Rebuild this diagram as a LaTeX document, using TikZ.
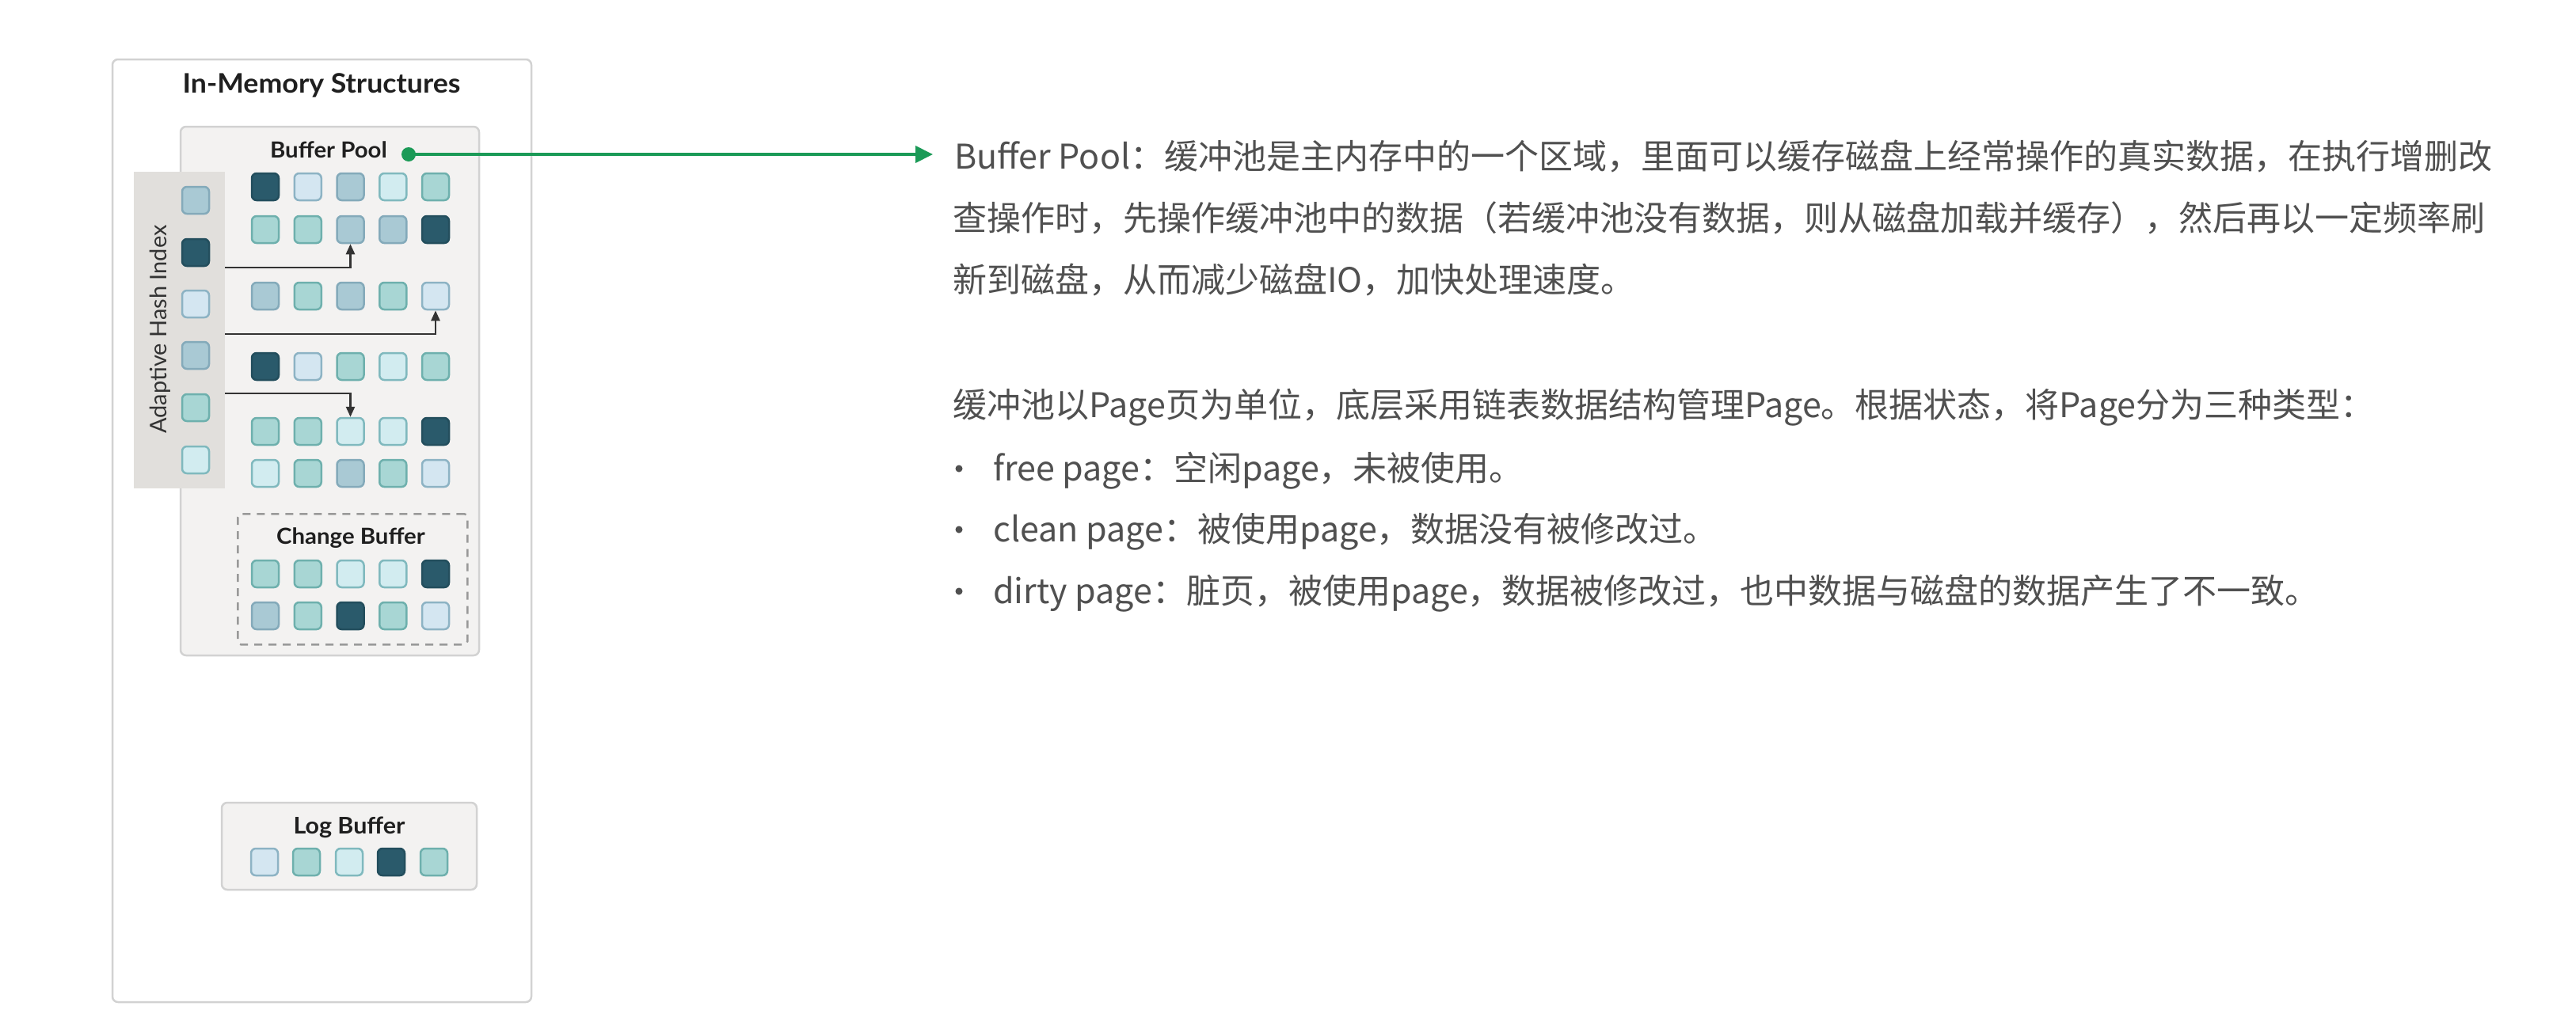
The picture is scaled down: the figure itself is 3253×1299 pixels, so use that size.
\documentclass[tikz,border=0pt]{standalone}
\usepackage{fontspec}
\setmainfont{Noto Sans CJK SC}
\newfontfamily\cjkfont{Noto Sans CJK SC}
\newfontfamily\latofont{Lato}
\newfontfamily\latowide{Lato}[FakeStretch=1.05]
\usetikzlibrary{arrows.meta}
\definecolor{txtgray}{HTML}{505050}
\definecolor{gline}{HTML}{1B9A57}
\definecolor{boxline}{HTML}{D2D2D2}
\definecolor{boxfill}{HTML}{F3F2F1}
\definecolor{ahifill}{HTML}{E1DFDC}
\definecolor{darkK}{HTML}{2A5A6B}
\definecolor{darkKb}{HTML}{234E5D}
\definecolor{lbF}{HTML}{D4E6F1}
\definecolor{lbD}{HTML}{8DB3C4}
\definecolor{gbF}{HTML}{A9C9D4}
\definecolor{gbD}{HTML}{84AABA}
\definecolor{lcF}{HTML}{D2ECF0}
\definecolor{lcD}{HTML}{80B9BE}
\definecolor{ttF}{HTML}{A8D6D4}
\definecolor{ttD}{HTML}{6EB0AD}
\newcommand\sqrow[4]{%
  \foreach \t [count=\i] in {#4} {\node[sq,sq\t] (#1-\i) at ({#2+53.75*(\i-1)},#3) {};}}
\begin{document}
\begin{tikzpicture}[x=1pt,y=-1pt,
  sq/.style={draw, rounded corners=6pt, minimum size=34pt, line width=2.5pt, inner sep=0pt},
  sqK/.style={fill=darkK, draw=darkKb},
  sqB/.style={fill=lbF, draw=lbD},
  sqG/.style={fill=gbF, draw=gbD},
  sqC/.style={fill=lcF, draw=lcD},
  sqT/.style={fill=ttF, draw=ttD},
  panel/.style={draw=boxline, fill=boxfill, line width=2.5pt, rounded corners=7pt, anchor=north west, inner sep=0pt, outer sep=0pt},
  lbl/.style={anchor=base, inner sep=0pt, text=black!88},
  body/.style={anchor=base west, inner sep=0pt, text=txtgray, font=\cjkfont\fontsize{43}{43}\selectfont},
  hidx/.style={-{Triangle[length=13pt,width=11pt]}, line width=2.5pt, draw=black!80},
]
\useasboundingbox (0,0) rectangle (3253,1299);
\fill[white] (0,0) rectangle (3253,1299);

% outer container
\node[panel, fill=white, draw=boxline, minimum width=529pt, minimum height=1191pt] (outer) at (142,75) {};
\node[lbl, font=\latowide\bfseries\fontsize{34}{34}\selectfont] (title) at (406,117) {In-Memory Structures};

% buffer pool
\node[panel, minimum width=377pt, minimum height=668pt] (bp) at (228,160) {};
\node[lbl, font=\latowide\bfseries\fontsize{28}{28}\selectfont] (bptitle) at (415,199) {Buffer Pool};

% adaptive hash index
\node[anchor=north west, fill=ahifill, minimum width=115pt, minimum height=400pt, inner sep=0pt, outer sep=0pt] (ahi) at (169,217) {};
\node[anchor=base, rotate=90, inner sep=0pt, text=black!80, font=\latofont\fontsize{29}{29}\selectfont] (ahititle) at (210,416) {Adaptive Hash Index};
\foreach \t/\y [count=\i] in {G/253,K/319,B/384,G/449,T/515,C/581} {\node[sq,sq\t] (ahi-\i) at (247,\y) {};}

% buffer pool pages
\sqrow{bpa}{335}{236}{K,B,G,C,T}
\sqrow{bpb}{335}{290}{T,T,G,G,K}
\sqrow{bpc}{335}{374}{G,T,G,T,B}
\sqrow{bpd}{335}{463}{K,B,T,C,T}
\sqrow{bpe}{335}{545}{T,T,C,C,K}
\sqrow{bpf}{335}{598}{C,T,G,T,B}

% hash index pointers
\coordinate (h1) at (284,338);
\coordinate (h2) at (284,422);
\coordinate (h3) at (284,497);
\draw[hidx] (h1) -| (bpb-3.south);
\draw[hidx] (h2) -| (bpc-5.south);
\draw[hidx] (h3) -| (bpe-3.north);

% change buffer
\node[anchor=north west, draw=black!40, dashed, dash pattern=on 10pt off 8pt, line width=2.5pt, rounded corners=4pt, minimum width=290pt, minimum height=165pt, inner sep=0pt] (cb) at (299,648) {};
\node[lbl, font=\latowide\bfseries\fontsize{28}{28}\selectfont] (cbtitle) at (443,687) {Change Buffer};
\sqrow{cba}{335}{725}{T,T,C,C,K}
\sqrow{cbb}{335}{778}{G,T,K,T,B}

% log buffer
\node[panel, minimum width=322pt, minimum height=110pt] (lb) at (280,1014) {};
\node[lbl, font=\latowide\bfseries\fontsize{29}{29}\selectfont] (lbtitle) at (441,1053) {Log Buffer};
\foreach \t/\x [count=\i] in {B/334,T/387,C/441,K/494,T/548} {\node[sq,sq\t] (lb-\i) at (\x,1089) {};}

% green pointer
\node[circle, fill=gline, minimum size=18pt, inner sep=0pt] (gdot) at (516,195) {};
\coordinate (gtip) at (1178,195);
\draw[gline, line width=4pt, -{Triangle[length=22pt,width=21pt]}] (gdot.center) -- (gtip);

% description text
\node[body] (l1) at (1205,213) {Buffer Pool：缓冲池是主内存中的一个区域，里面可以缓存磁盘上经常操作的真实数据，在执行增删改};
\node[body] (l2) at (1203,291) {查操作时，先操作缓冲池中的数据（若缓冲池没有数据，则从磁盘加载并缓存），然后再以一定频率刷};
\node[body] (l3) at (1203,369) {新到磁盘，从而减少磁盘IO，加快处理速度。};
\node[body] (l4) at (1203,527) {缓冲池以Page页为单位，底层采用链表数据结构管理Page。根据状态，将Page分为三种类型：};
\foreach \y in {607,684,762} {\fill[txtgray] (1211,\y-15) circle (4.5pt);}
\node[body] (l5) at (1254,607) {free page：空闲page，未被使用。};
\node[body] (l6) at (1254,684) {clean page：被使用page，数据没有被修改过。};
\node[body] (l7) at (1254,762) {dirty page：脏页，被使用page，数据被修改过，也中数据与磁盘的数据产生了不一致。};
\end{tikzpicture}
\end{document}
